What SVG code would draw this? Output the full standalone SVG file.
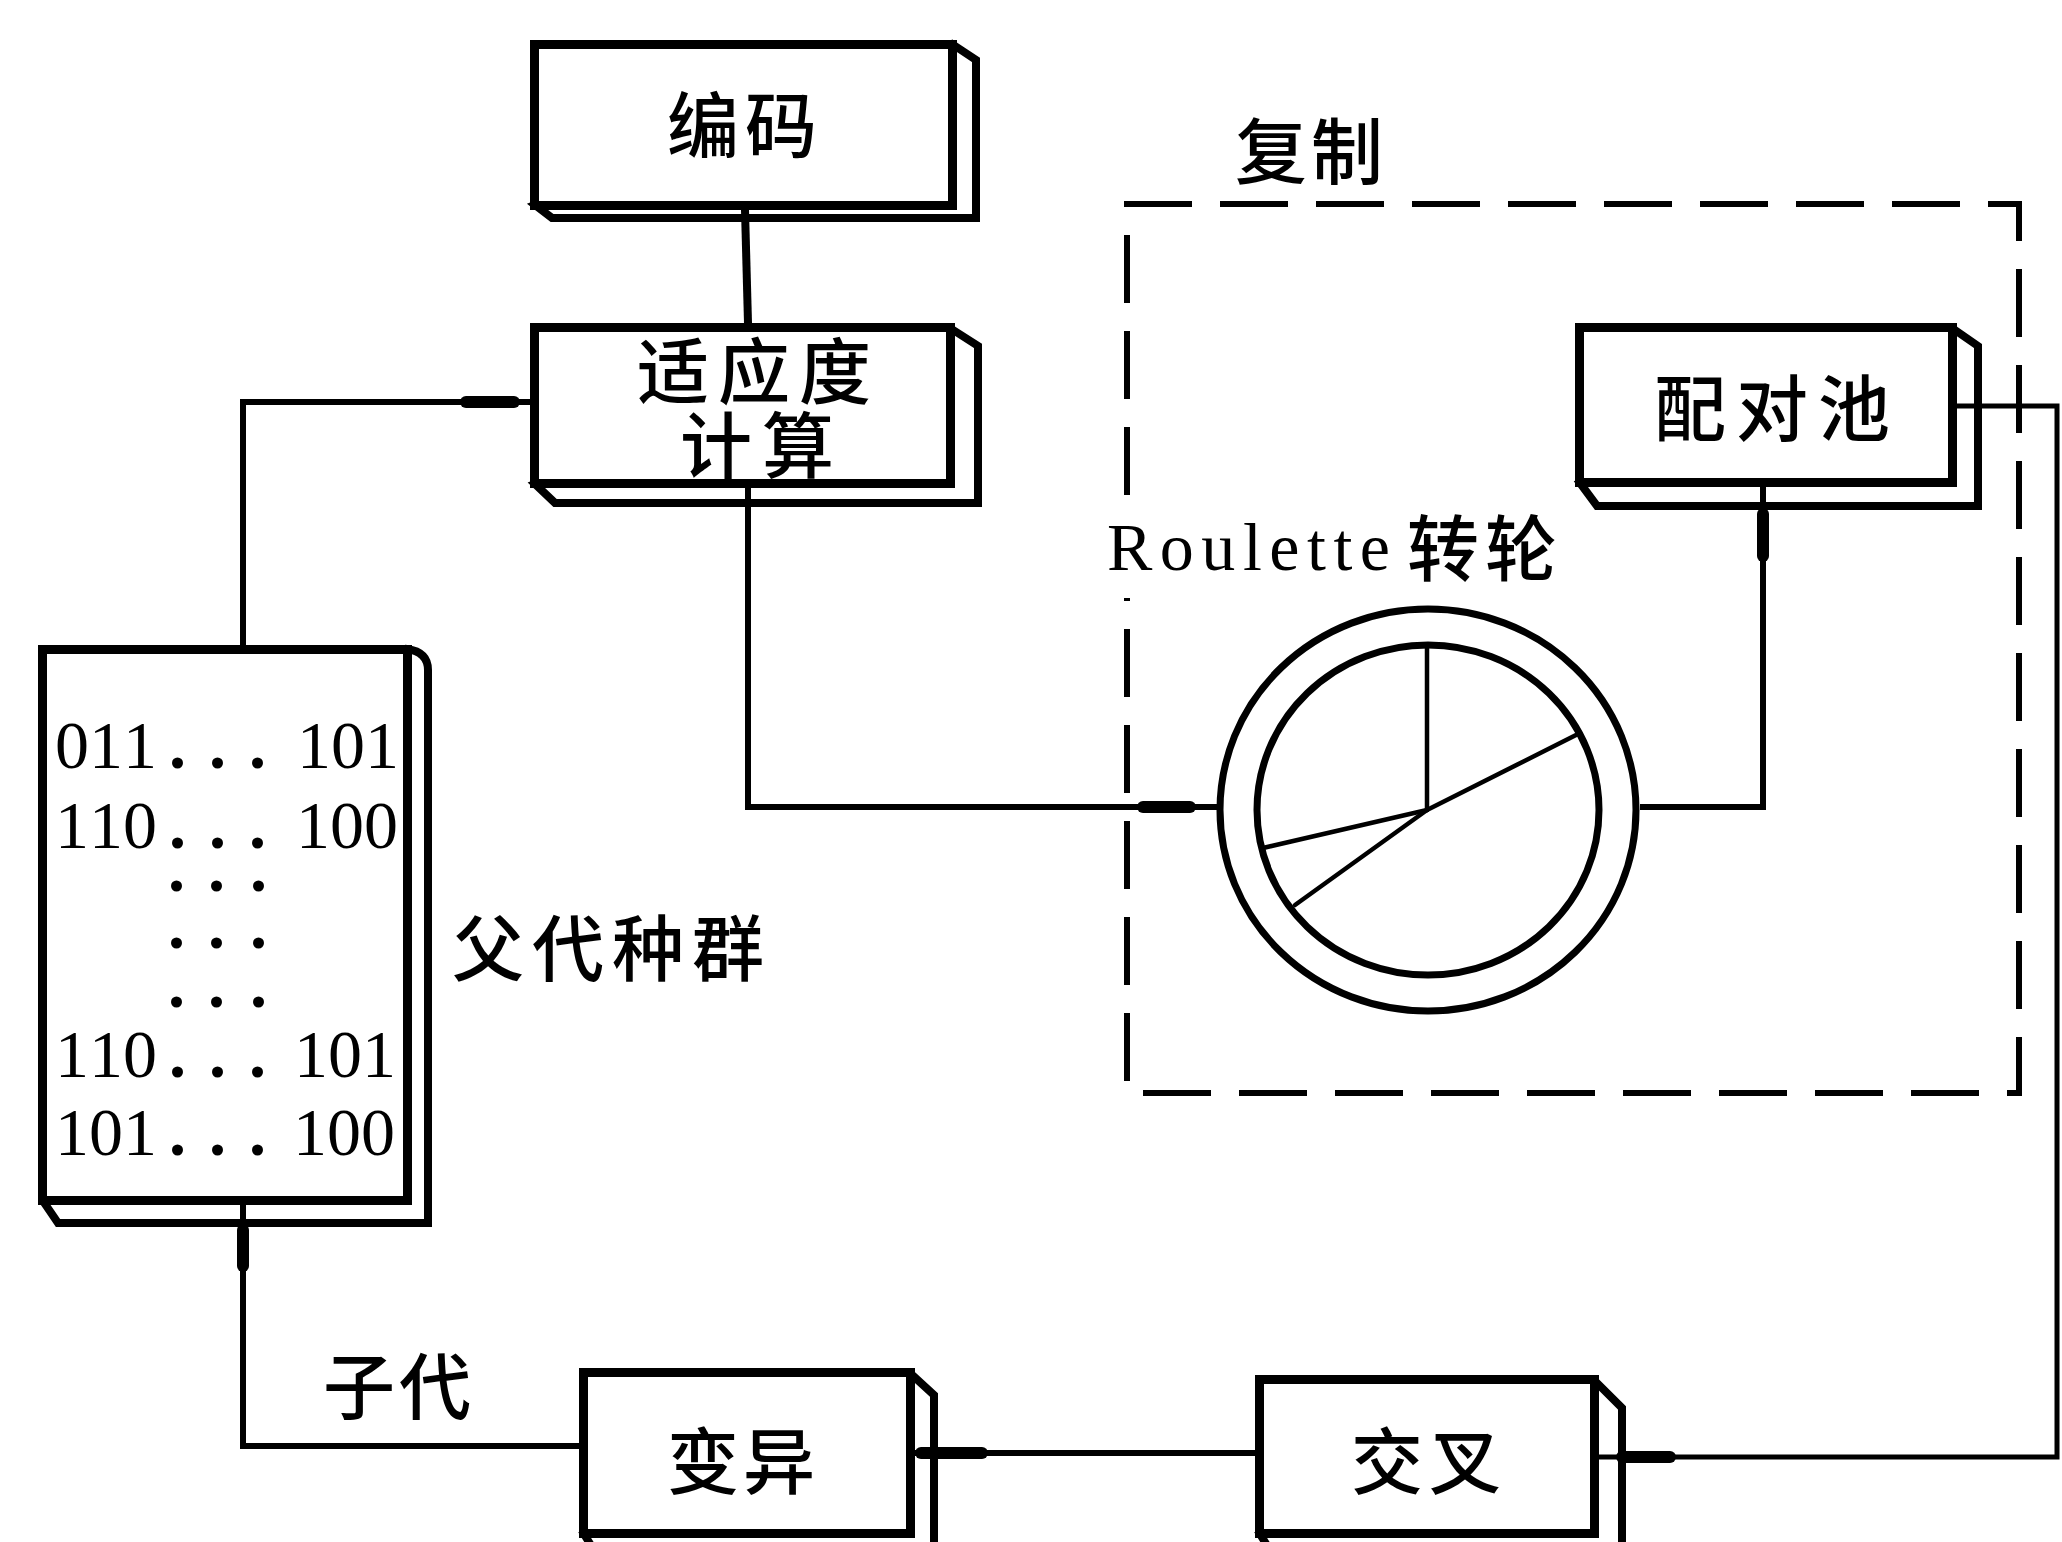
<svg xmlns="http://www.w3.org/2000/svg" width="2062" height="1542" viewBox="0 0 2062 1542">
  <style>
    .face { fill: #fff; stroke: #000; stroke-width: 9; stroke-linejoin: miter; }
    .depth { fill: #fff; stroke: #000; stroke-width: 8; stroke-linejoin: miter; }
    .cjk { font-family: "Noto Sans CJK SC", "Noto Sans CJK TC", sans-serif; font-size: 72px; font-weight: 500; fill: #000; }
    .num { font-family: "Liberation Serif", serif; font-size: 68px; fill: #000; }
    .dots { font-weight: bold; }
    .wire { fill: none; stroke: #000; stroke-width: 6; stroke-linejoin: miter; }
    .thick { stroke-width: 8; }
    .thin { stroke-width: 5; }
    .tip { fill: none; stroke: #000; stroke-width: 12; stroke-linecap: round; }
    .frame { fill: none; stroke: #000; stroke-width: 6; stroke-dasharray: 68 28; }
    .rim { fill: #fff; stroke: #000; stroke-width: 7; }
    .spoke { stroke: #000; stroke-width: 4.5; stroke-linecap: round; }
  </style>

  <rect width="2062" height="1542" fill="#fff"/>

  <!-- selection (reproduction) region: dashed frame, left side broken for the wheel caption -->
  <g id="reproduction">
    <path class="frame" d="M1127 495 L1127 204 L2019 204 L2019 1093 L1127 1093 L1127 598"/>
    <text class="cjk" x="1235 1311" y="178">复制</text>
  </g>

  <!-- encoding -->
  <g id="encode">
    <path class="depth" d="M952 44 L976 60 L976 218 L552 218 L535 205 Z"/>
    <rect class="face" x="534.5" y="44.5" width="418" height="161"/>
    <text class="cjk" x="667 745" y="152">编码</text>
  </g>

  <!-- fitness evaluation -->
  <g id="fitness">
    <path class="depth" d="M950 328 L978 346 L978 503 L555 503 L535 484 Z"/>
    <rect class="face" x="534.5" y="327.5" width="416" height="156"/>
    <text class="cjk"><tspan x="637 718 799" y="398">适应度</tspan><tspan x="680 762" y="472">计算</tspan></text>
  </g>

  <!-- mating pool -->
  <g id="mating-pool">
    <path class="depth" d="M1952 328 L1978 346 L1978 506 L1597 506 L1580 483 Z"/>
    <rect class="face" x="1579.5" y="327.5" width="373" height="155"/>
    <text class="cjk" x="1654 1736 1818" y="435">配对池</text>
  </g>

  <!-- roulette wheel -->
  <g id="roulette">
    <text class="num" x="1107" y="570" font-size="75" textLength="283" lengthAdjust="spacing">Roulette</text>
    <text class="cjk" x="1407 1485" y="575">转轮</text>
    <ellipse class="rim" cx="1428" cy="810" rx="208" ry="201"/>
    <ellipse class="rim" cx="1428" cy="810" rx="171" ry="165"/>
    <line class="spoke" x1="1427" y1="810" x2="1427" y2="645"/>
    <line class="spoke" x1="1427" y1="810" x2="1580" y2="733"/>
    <line class="spoke" x1="1427" y1="810" x2="1295" y2="905"/>
    <line class="spoke" x1="1427" y1="810" x2="1263" y2="848"/>
  </g>

  <!-- parent population -->
  <g id="population">
    <path class="depth" d="M407 649 Q428 652 428 670 L428 1223 L58 1223 L43 1201 Z"/>
    <rect class="face" x="42.5" y="649.5" width="365" height="551"/>
    <text class="num">
      <tspan x="55 89 123" y="768">011</tspan><tspan class="dots" x="169 209 249" y="768">...</tspan><tspan x="297 331 365" y="768">101</tspan>
      <tspan x="55 89 123" y="848">110</tspan><tspan class="dots" x="169 209 249" y="848">...</tspan><tspan x="296 330 364" y="848">100</tspan>
      <tspan class="dots" x="168 208 250" y="891">...</tspan>
      <tspan class="dots" x="168 208 250" y="948">...</tspan>
      <tspan class="dots" x="168 208 250" y="1007">...</tspan>
      <tspan x="55 89 123" y="1077">110</tspan><tspan class="dots" x="169 209 249" y="1077">...</tspan><tspan x="294 328 362" y="1077">101</tspan>
      <tspan x="55 89 123" y="1155">101</tspan><tspan class="dots" x="169 209 249" y="1155">...</tspan><tspan x="293 327 361" y="1155">100</tspan>
    </text>
    <text class="cjk" x="452 532 612 692" y="975">父代种群</text>
  </g>

  <!-- mutation -->
  <g id="mutation">
    <path class="depth" d="M910 1373 L934 1395 L934 1560 L600 1560 L584 1534 Z"/>
    <rect class="face" x="583.5" y="1372.5" width="327" height="161"/>
    <text class="cjk" x="667 743" y="1488">变异</text>
  </g>

  <!-- crossover -->
  <g id="crossover">
    <path class="depth" d="M1594 1380 L1622 1408 L1622 1560 L1276 1560 L1260 1534 Z"/>
    <rect class="face" x="1259.5" y="1379.5" width="335" height="154"/>
    <text class="cjk" x="1351 1429" y="1488">交叉</text>
  </g>

  <!-- offspring label -->
  <g id="offspring">
    <text class="cjk" x="323 399" y="1413">子代</text>
  </g>

  <!-- connectors -->
  <g id="connectors">
    <path class="wire" d="M243 645 L243 402 L530 402"/>
    <line class="tip" x1="466" y1="402" x2="514" y2="402"/>

    <line class="wire thick" x1="745" y1="210" x2="748" y2="323"/>

    <path class="wire" d="M748 488 L748 807 L1217 807"/>
    <line class="tip" x1="1143" y1="807" x2="1190" y2="807"/>

    <path class="wire" d="M1640 807 L1763 807 L1763 487"/>
    <line class="tip" x1="1763" y1="514" x2="1763" y2="556"/>

    <path class="wire thin" d="M1957 406 L2057 406 L2057 1457 L1599 1457"/>
    <line class="tip" x1="1622" y1="1457" x2="1670" y2="1457"/>

    <line class="wire" x1="1255" y1="1453" x2="915" y2="1453"/>
    <line class="tip" x1="921" y1="1453" x2="982" y2="1453"/>

    <path class="wire" d="M579 1446 L243 1446 L243 1205"/>
    <line class="tip" x1="243" y1="1230" x2="243" y2="1266"/>
  </g>
</svg>
